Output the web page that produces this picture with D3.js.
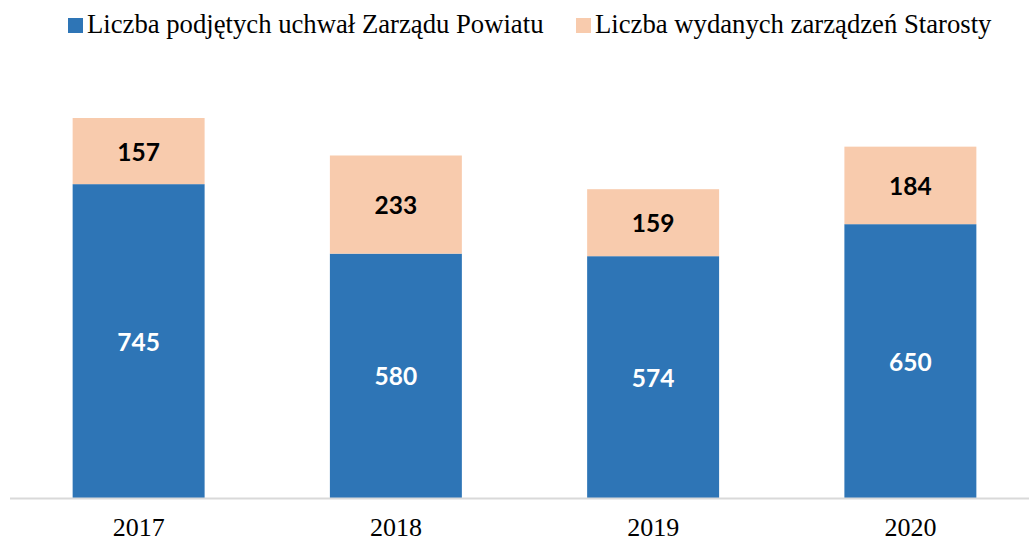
<!DOCTYPE html>
<html><head><meta charset="utf-8">
<script src="https://cdn.jsdelivr.net/npm/d3@7/dist/d3.min.js"></script>
<style>body{margin:0;background:#fff}</style>
</head><body>
<svg id="c" width="1029" height="542"></svg>
<script>
const categories = ["2017","2018","2019","2020"];
const uchwaly = [745,580,574,650];
const zarzadzenia = [157,233,159,184];
const seriesNames = ["Liczba podjętych uchwał Zarządu Powiatu","Liczba wydanych zarządzeń Starosty"];
const colors = ["#2E75B6","#F8CBAD"];

const svg = d3.select("#c");
const baseY = 498;
const x = d3.scaleBand().domain(categories).range([10,1039]).paddingInner(0.487).paddingOuter(0.2435);
const y = d3.scaleLinear().domain([0,902]).range([baseY,118]);

const data = categories.map((c,i)=>({c, a:uchwaly[i], b:zarzadzenia[i]}));
const g = svg.append("g");
g.selectAll("rect.a").data(data).join("rect").attr("class","a")
  .attr("x",d=>x(d.c)).attr("width",x.bandwidth())
  .attr("y",d=>y(d.a)).attr("height",d=>baseY-y(d.a)).attr("fill",colors[0]);
g.selectAll("rect.b").data(data).join("rect").attr("class","b")
  .attr("x",d=>x(d.c)).attr("width",x.bandwidth())
  .attr("y",d=>y(d.a+d.b)).attr("height",d=>y(d.a)-y(d.a+d.b)).attr("fill",colors[1]);

const lf = "Lato, 'Open Sans', sans-serif";
g.selectAll("text.a").data(data).join("text").attr("class","a")
  .attr("x",d=>x(d.c)+x.bandwidth()/2).attr("y",d=>(y(d.a)+baseY)/2)
  .attr("text-anchor","middle").attr("dominant-baseline","central")
  .attr("font-family",lf).attr("font-weight","bold").attr("font-size",24.5)
  .attr("fill","#fff").text(d=>d.a);
g.selectAll("text.b").data(data).join("text").attr("class","b")
  .attr("x",d=>x(d.c)+x.bandwidth()/2).attr("y",d=>(y(d.a)+y(d.a+d.b))/2)
  .attr("text-anchor","middle").attr("dominant-baseline","central")
  .attr("font-family",lf).attr("font-weight","bold").attr("font-size",24.5)
  .attr("fill","#000").text(d=>d.b);

// axis
const ax = svg.append("g").attr("transform",`translate(0,${baseY})`)
  .call(d3.axisBottom(x).tickSize(0).tickPadding(20));
ax.select(".domain").attr("d","M10,0.5H1029").attr("stroke","#D9D9D9").attr("stroke-width",2);
ax.selectAll("text").attr("font-family","'Liberation Serif','Times New Roman',serif")
  .attr("font-size",26).attr("fill","#000");

// legend
const leg = [{x:68,tx:87},{x:576,tx:595}];
seriesNames.forEach((n,i)=>{
  svg.append("rect").attr("x",leg[i].x).attr("y",18).attr("width",15).attr("height",15).attr("fill",colors[i]);
  svg.append("text").attr("x",leg[i].tx).attr("y",33)
    .attr("font-family","'Liberation Serif','Times New Roman',serif").attr("font-size",26.7)
    .attr("fill","#000").text(n);
});
</script>
</body></html>
